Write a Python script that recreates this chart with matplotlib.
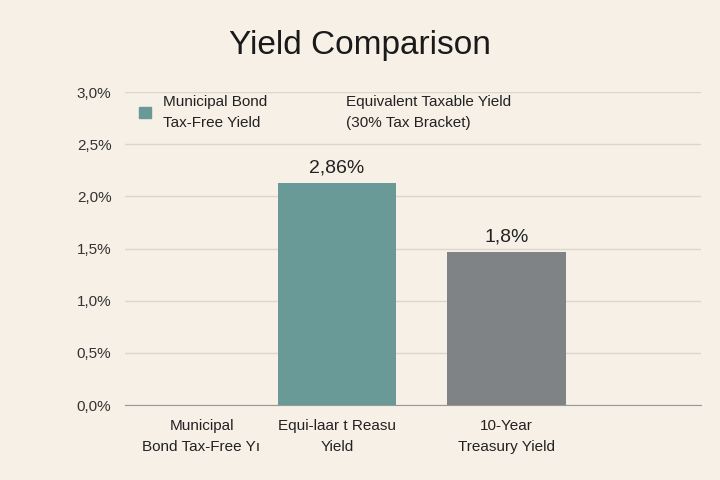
import matplotlib.pyplot as plt
from matplotlib.patches import Patch

# data
categories = ["Municipal\nBond Tax-Free Yı", "Equi-laar t Reasu\nYield", "10-Year\nTreasury Yield"]
values = [0.0, 2.13, 1.47]
bar_labels = ["", "2,86%", "1,8%"]
colors = ["#6a9a98", "#6a9a98", "#7f8386"]
yticks = [0.0, 0.5, 1.0, 1.5, 2.0, 2.5, 3.0]
ytick_labels = ["0,0%", "0,5%", "1,0%", "1,5%", "2,0%", "2,5%", "3,0%"]

bg = "#f6f0e6"
plt.rcParams['font.family'] = ['Liberation Sans', 'DejaVu Sans']

fig = plt.figure(figsize=(7.2, 4.8), dpi=100, facecolor=bg)
ax = fig.add_axes([0.174, 0.156, 0.8, 0.652], facecolor=bg)

x = range(len(categories))
ax.bar(x, values, width=0.7, color=colors, zorder=3)
for xi, v, lab in zip(x, values, bar_labels):
    if lab:
        ax.text(xi, v + 0.06, lab, ha="center", va="bottom", fontsize=14, color="#222222")

ax.set_xlim(-0.25, 3.15)
ax.set_ylim(0, 3.0)
ax.set_yticks(yticks)
ax.set_yticklabels(ytick_labels, fontsize=11, color="#333333")
ax.set_xticks([0.2, 1, 2])
ax.set_xticklabels(categories, fontsize=11, color="#222222", linespacing=1.6)
ax.tick_params(length=0, pad=10)
ax.grid(axis="y", color="#dcd6cc", linewidth=1, zorder=0)
for s in ["top", "right", "left"]:
    ax.spines[s].set_visible(False)
ax.spines["bottom"].set_color("#999999")

fig.text(0.5, 0.905, "Yield Comparison", ha="center", va="center", fontsize=24, color="#1a1a1a")

handles = [Patch(color="#6a9a98"), Patch(color=bg, alpha=0)]
leg = ax.legend(handles, ["Municipal Bond\nTax-Free Yield", "Equivalent Taxable Yield\n(30% Tax Bracket)"],
                ncol=2, loc="upper left", bbox_to_anchor=(0.0, 1.035), frameon=False,
                fontsize=11, handlelength=0.8, handleheight=0.8, columnspacing=3.5,
                labelcolor="#222222")
for t in leg.get_texts():
    t.set_linespacing(1.6)

plt.savefig("out.png", dpi=100, facecolor=bg)
